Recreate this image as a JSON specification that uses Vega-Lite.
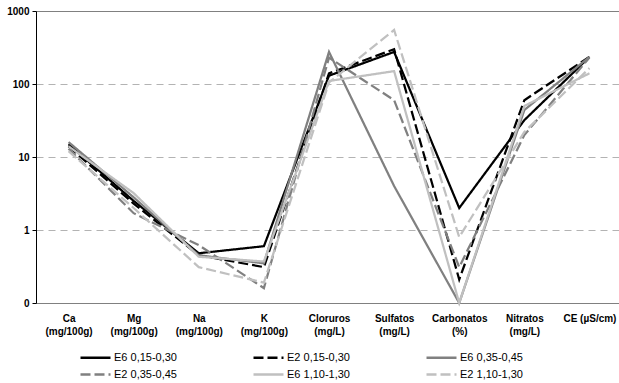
{
  "$schema": "https://vega.github.io/schema/vega-lite/v6.json",
  "width": 586,
  "height": 292,
  "autosize": {"type": "none"},
  "padding": {"left": 36, "top": 11, "right": 0, "bottom": 80},
  "background": "white",
  "config": {
    "view": {"stroke": null},
    "font": "Liberation Sans"
  },
  "data": {
    "values": [
      {"serie": "E6 0,15-0,30", "param": "Ca|(mg/100g)", "valor": 15},
      {"serie": "E6 0,15-0,30", "param": "Mg|(mg/100g)", "valor": 2.5},
      {"serie": "E6 0,15-0,30", "param": "Na|(mg/100g)", "valor": 0.48},
      {"serie": "E6 0,15-0,30", "param": "K|(mg/100g)", "valor": 0.6},
      {"serie": "E6 0,15-0,30", "param": "Cloruros|(mg/L)", "valor": 130},
      {"serie": "E6 0,15-0,30", "param": "Sulfatos|(mg/L)", "valor": 275},
      {"serie": "E6 0,15-0,30", "param": "Carbonatos|(%)", "valor": 2.0},
      {"serie": "E6 0,15-0,30", "param": "Nitratos|(mg/L)", "valor": 32},
      {"serie": "E6 0,15-0,30", "param": "CE (µS/cm)", "valor": 235},

      {"serie": "E2 0,15-0,30", "param": "Ca|(mg/100g)", "valor": 14},
      {"serie": "E2 0,15-0,30", "param": "Mg|(mg/100g)", "valor": 2.3},
      {"serie": "E2 0,15-0,30", "param": "Na|(mg/100g)", "valor": 0.45},
      {"serie": "E2 0,15-0,30", "param": "K|(mg/100g)", "valor": 0.31},
      {"serie": "E2 0,15-0,30", "param": "Cloruros|(mg/L)", "valor": 140},
      {"serie": "E2 0,15-0,30", "param": "Sulfatos|(mg/L)", "valor": 300},
      {"serie": "E2 0,15-0,30", "param": "Carbonatos|(%)", "valor": 0.21},
      {"serie": "E2 0,15-0,30", "param": "Nitratos|(mg/L)", "valor": 60},
      {"serie": "E2 0,15-0,30", "param": "CE (µS/cm)", "valor": 235},

      {"serie": "E6 0,35-0,45", "param": "Ca|(mg/100g)", "valor": 16},
      {"serie": "E6 0,35-0,45", "param": "Mg|(mg/100g)", "valor": 2.8},
      {"serie": "E6 0,35-0,45", "param": "Na|(mg/100g)", "valor": 0.45},
      {"serie": "E6 0,35-0,45", "param": "K|(mg/100g)", "valor": 0.35},
      {"serie": "E6 0,35-0,45", "param": "Cloruros|(mg/L)", "valor": 275},
      {"serie": "E6 0,35-0,45", "param": "Sulfatos|(mg/L)", "valor": 4},
      {"serie": "E6 0,35-0,45", "param": "Carbonatos|(%)", "valor": 0.1},
      {"serie": "E6 0,35-0,45", "param": "Nitratos|(mg/L)", "valor": 44},
      {"serie": "E6 0,35-0,45", "param": "CE (µS/cm)", "valor": 235},

      {"serie": "E2 0,35-0,45", "param": "Ca|(mg/100g)", "valor": 13},
      {"serie": "E2 0,35-0,45", "param": "Mg|(mg/100g)", "valor": 1.7},
      {"serie": "E2 0,35-0,45", "param": "Na|(mg/100g)", "valor": 0.62},
      {"serie": "E2 0,35-0,45", "param": "K|(mg/100g)", "valor": 0.16},
      {"serie": "E2 0,35-0,45", "param": "Cloruros|(mg/L)", "valor": 230},
      {"serie": "E2 0,35-0,45", "param": "Sulfatos|(mg/L)", "valor": 60},
      {"serie": "E2 0,35-0,45", "param": "Carbonatos|(%)", "valor": 0.31},
      {"serie": "E2 0,35-0,45", "param": "Nitratos|(mg/L)", "valor": 20},
      {"serie": "E2 0,35-0,45", "param": "CE (µS/cm)", "valor": 230},

      {"serie": "E6 1,10-1,30", "param": "Ca|(mg/100g)", "valor": 14},
      {"serie": "E6 1,10-1,30", "param": "Mg|(mg/100g)", "valor": 3.2},
      {"serie": "E6 1,10-1,30", "param": "Na|(mg/100g)", "valor": 0.43},
      {"serie": "E6 1,10-1,30", "param": "K|(mg/100g)", "valor": 0.37},
      {"serie": "E6 1,10-1,30", "param": "Cloruros|(mg/L)", "valor": 110},
      {"serie": "E6 1,10-1,30", "param": "Sulfatos|(mg/L)", "valor": 150},
      {"serie": "E6 1,10-1,30", "param": "Carbonatos|(%)", "valor": 0.1},
      {"serie": "E6 1,10-1,30", "param": "Nitratos|(mg/L)", "valor": 50},
      {"serie": "E6 1,10-1,30", "param": "CE (µS/cm)", "valor": 140},

      {"serie": "E2 1,10-1,30", "param": "Ca|(mg/100g)", "valor": 12},
      {"serie": "E2 1,10-1,30", "param": "Mg|(mg/100g)", "valor": 2.0},
      {"serie": "E2 1,10-1,30", "param": "Na|(mg/100g)", "valor": 0.31},
      {"serie": "E2 1,10-1,30", "param": "K|(mg/100g)", "valor": 0.19},
      {"serie": "E2 1,10-1,30", "param": "Cloruros|(mg/L)", "valor": 105},
      {"serie": "E2 1,10-1,30", "param": "Sulfatos|(mg/L)", "valor": 550},
      {"serie": "E2 1,10-1,30", "param": "Carbonatos|(%)", "valor": 0.8},
      {"serie": "E2 1,10-1,30", "param": "Nitratos|(mg/L)", "valor": 22},
      {"serie": "E2 1,10-1,30", "param": "CE (µS/cm)", "valor": 165}
    ]
  },
  "mark": {"type": "line", "strokeWidth": 2.25, "strokeJoin": "miter"},
  "encoding": {
    "x": {
      "field": "param",
      "type": "nominal",
      "sort": null,
      "scale": {"type": "point", "padding": 0.5},
      "axis": {
        "title": null,
        "labelAngle": 0,
        "ticks": false,
        "domainColor": "#808080",
        "domainWidth": 1,
        "labelExpr": "split(datum.label, '|')",
        "labelFont": "Liberation Sans",
        "labelFontSize": 10,
        "labelFontWeight": "bold",
        "labelColor": "#000000",
        "labelLineHeight": 13,
        "labelPadding": 10,
        "labelBaseline": "top"
      }
    },
    "y": {
      "field": "valor",
      "type": "quantitative",
      "scale": {"type": "log", "domain": [0.1, 1000], "nice": false},
      "axis": {
        "title": null,
        "values": [0.1, 1, 10, 100, 1000],
        "labelExpr": "datum.value < 1 ? '0' : format(datum.value, 'd')",
        "labelFont": "Liberation Sans",
        "labelFontSize": 10,
        "labelFontWeight": "bold",
        "labelColor": "#000000",
        "labelPadding": 3,
        "tickSize": 4,
        "tickColor": "#000000",
        "domainColor": "#000000",
        "grid": true,
        "gridColor": {"condition": {"test": "datum.value >= 1000", "value": "#808080"}, "value": "#b3b3b3"},
        "gridDash": {"condition": {"test": "datum.value >= 1000", "value": []}, "value": [7, 5]},
        "gridOpacity": {"condition": {"test": "datum.value < 1", "value": 0}, "value": 1}
      }
    },
    "color": {
      "field": "serie",
      "type": "nominal",
      "scale": {
        "domain": ["E6 0,15-0,30", "E2 0,15-0,30", "E6 0,35-0,45", "E2 0,35-0,45", "E6 1,10-1,30", "E2 1,10-1,30"],
        "range": ["#000000", "#000000", "#808080", "#808080", "#c0c0c0", "#c0c0c0"]
      },
      "legend": {
        "title": null,
        "orient": "none",
        "legendX": 53,
        "legendY": 340,
        "direction": "horizontal",
        "columns": 3,
        "columnPadding": 71,
        "rowPadding": 5,
        "symbolType": "M-3,0H3",
        "symbolSize": 100,
        "symbolStrokeWidth": 2.5,
        "symbolFillColor": "transparent",
        "labelFont": "Liberation Sans",
        "labelFontSize": 11,
        "labelColor": "#000000",
        "labelOffset": 12,
        "labelLimit": 200
      }
    },
    "strokeDash": {
      "field": "serie",
      "type": "nominal",
      "scale": {
        "domain": ["E6 0,15-0,30", "E2 0,15-0,30", "E6 0,35-0,45", "E2 0,35-0,45", "E6 1,10-1,30", "E2 1,10-1,30"],
        "range": [[1, 0], [10, 4], [1, 0], [10, 4], [1, 0], [10, 4]]
      },
      "legend": null
    }
  }
}
